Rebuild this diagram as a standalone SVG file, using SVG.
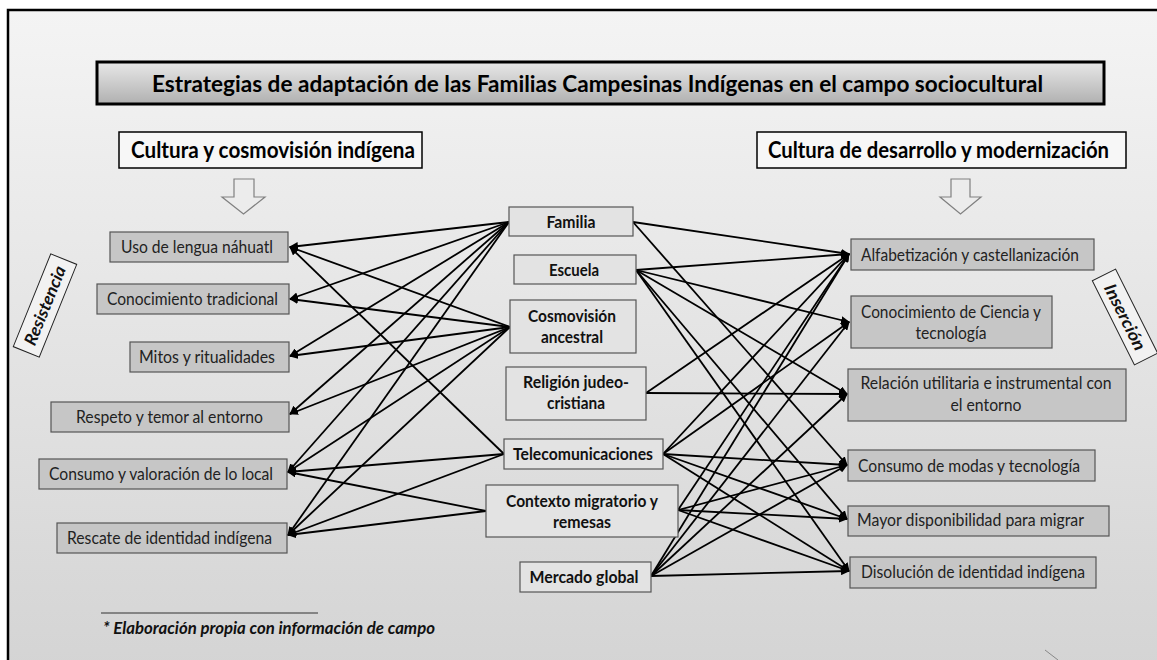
<svg xmlns="http://www.w3.org/2000/svg" width="1157" height="660" viewBox="0 0 1157 660">
<defs>
<linearGradient id="bg" x1="0" y1="0" x2="0" y2="1">
<stop offset="0" stop-color="#f4f4f4"/>
<stop offset="1" stop-color="#d4d4d4"/>
</linearGradient>
<linearGradient id="tg" x1="0" y1="0" x2="0" y2="1">
<stop offset="0" stop-color="#e8e8e8"/>
<stop offset="1" stop-color="#b0b0b0"/>
</linearGradient>
<marker id="ah" markerUnits="userSpaceOnUse" markerWidth="9" markerHeight="8" refX="8" refY="4" orient="auto">
<path d="M0,0 L9,4 L0,8 z" fill="#000"/>
</marker>
<style>
.side{fill:#c6c6c6;stroke:#555;stroke-width:1.2}
.mid{fill:#e3e3e3;stroke:#555;stroke-width:1.2}
.hdr{fill:#f7f7f7;stroke:#000;stroke-width:1.5}
.ar{fill:#ececec;stroke:#808080;stroke-width:1.2}
.t{font-family:Lato,"Open Sans","DejaVu Sans",sans-serif;font-size:17px;fill:#222}
.b{font-family:Lato,"Open Sans","DejaVu Sans",sans-serif;font-size:17px;font-weight:bold;fill:#111}
.h{font-family:Lato,"Open Sans","DejaVu Sans",sans-serif;font-size:22px;font-weight:bold;fill:#000}
.lab{font-family:Lato,"Open Sans","DejaVu Sans",sans-serif;font-size:17px;font-weight:bold;font-style:italic;fill:#111}
.c{fill:none;stroke:#000;stroke-width:1.8;marker-end:url(#ah)}
</style>
</defs>
<rect x="0" y="0" width="1157" height="660" fill="#fff"/>
<rect x="8" y="10" width="1160" height="660" fill="url(#bg)" stroke="#000" stroke-width="2.5"/>

<g id="title">
<rect x="97" y="62" width="1007" height="42" fill="url(#tg)" stroke="#000" stroke-width="3"/>
<text x="152" y="92" class="h" font-size="24" textLength="891" lengthAdjust="spacingAndGlyphs">Estrategias de adaptación de las Familias Campesinas Indígenas en el campo sociocultural</text>
</g>

<g id="hdr-left">
<rect x="119" y="132" width="303" height="36" class="hdr"/>
<text x="131" y="158" class="h" textLength="284" lengthAdjust="spacingAndGlyphs">Cultura y cosmovisión indígena</text>
<path d="M234,179 H254 V197 H265 L243.5,214 L222,197 H234 Z" class="ar"/>
</g>
<g id="hdr-right">
<rect x="757" y="132" width="369" height="36" class="hdr"/>
<text x="768" y="158" class="h" textLength="341" lengthAdjust="spacingAndGlyphs">Cultura de desarrollo y modernización</text>
<path d="M951,179 H970 V197 H981 L960.5,214 L940,197 H951 Z" class="ar"/>
</g>

<g id="resistencia" transform="translate(45,305.5) rotate(-68)">
<rect x="-50" y="-14" width="100" height="28" fill="#f2f2f2" stroke="#222" stroke-width="1"/>
<text x="0" y="6" class="lab" text-anchor="middle" textLength="84" lengthAdjust="spacingAndGlyphs">Resistencia</text>
</g>
<g id="insercion" transform="translate(1125,317) rotate(63.4)">
<rect x="-47" y="-13" width="94" height="26" fill="#f2f2f2" stroke="#222" stroke-width="1"/>
<text x="0" y="6" class="lab" text-anchor="middle" textLength="72" lengthAdjust="spacingAndGlyphs">Inserción</text>
</g>

<g id="connectors">
<line x1="509" y1="222" x2="290" y2="247" class="c"/>
<line x1="509" y1="222" x2="290" y2="299" class="c"/>
<line x1="509" y1="222" x2="290" y2="356" class="c"/>
<line x1="509" y1="222" x2="290" y2="414" class="c"/>
<line x1="509" y1="222" x2="288" y2="472" class="c"/>
<line x1="509" y1="222" x2="288" y2="535" class="c"/>
<line x1="510" y1="327" x2="290" y2="247" class="c"/>
<line x1="510" y1="327" x2="290" y2="299" class="c"/>
<line x1="510" y1="327" x2="290" y2="356" class="c"/>
<line x1="510" y1="327" x2="290" y2="414" class="c"/>
<line x1="510" y1="327" x2="288" y2="472" class="c"/>
<line x1="510" y1="327" x2="288" y2="535" class="c"/>
<line x1="504" y1="454" x2="290" y2="247" class="c"/>
<line x1="504" y1="454" x2="288" y2="472" class="c"/>
<line x1="504" y1="454" x2="288" y2="535" class="c"/>
<line x1="486" y1="511" x2="288" y2="472" class="c"/>
<line x1="486" y1="511" x2="288" y2="535" class="c"/>

<line x1="633" y1="222" x2="849" y2="254" class="c"/>
<line x1="633" y1="222" x2="847" y2="465" class="c"/>
<line x1="636" y1="270" x2="849" y2="254" class="c"/>
<line x1="636" y1="270" x2="849" y2="322" class="c"/>
<line x1="636" y1="270" x2="847" y2="394" class="c"/>
<line x1="636" y1="270" x2="847" y2="519" class="c"/>
<line x1="636" y1="270" x2="849" y2="571" class="c"/>
<line x1="646" y1="393" x2="849" y2="254" class="c"/>
<line x1="646" y1="393" x2="847" y2="394" class="c"/>
<line x1="663" y1="454" x2="849" y2="254" class="c"/>
<line x1="663" y1="454" x2="849" y2="322" class="c"/>
<line x1="663" y1="454" x2="847" y2="465" class="c"/>
<line x1="663" y1="454" x2="847" y2="519" class="c"/>
<line x1="663" y1="454" x2="849" y2="571" class="c"/>
<line x1="678" y1="510" x2="849" y2="254" class="c"/>
<line x1="678" y1="510" x2="847" y2="465" class="c"/>
<line x1="678" y1="510" x2="847" y2="519" class="c"/>
<line x1="678" y1="510" x2="849" y2="571" class="c"/>
<line x1="651" y1="576" x2="849" y2="254" class="c"/>
<line x1="651" y1="576" x2="849" y2="322" class="c"/>
<line x1="651" y1="576" x2="847" y2="394" class="c"/>
<line x1="651" y1="576" x2="847" y2="465" class="c"/>
<line x1="651" y1="576" x2="849" y2="571" class="c"/>
</g>

<g id="uso"><rect x="110" y="232" width="178" height="30" class="side"/><text x="121" y="253" class="t" textLength="152" lengthAdjust="spacingAndGlyphs">Uso de lengua náhuatl</text></g>
<g id="conoc-trad"><rect x="97" y="284" width="192" height="30" class="side"/><text x="107" y="305" class="t" textLength="171" lengthAdjust="spacingAndGlyphs">Conocimiento tradicional</text></g>
<g id="mitos"><rect x="130" y="342" width="159" height="30" class="side"/><text x="139" y="363" class="t" textLength="136" lengthAdjust="spacingAndGlyphs">Mitos y ritualidades</text></g>
<g id="respeto"><rect x="51" y="402" width="238" height="30" class="side"/><text x="76" y="423" class="t" textLength="187" lengthAdjust="spacingAndGlyphs">Respeto y temor al entorno</text></g>
<g id="consumo-local"><rect x="39" y="459" width="248" height="30" class="side"/><text x="49" y="480" class="t" textLength="224" lengthAdjust="spacingAndGlyphs">Consumo y valoración de lo local</text></g>
<g id="rescate"><rect x="57" y="523" width="230" height="30" class="side"/><text x="67" y="544" class="t" textLength="205" lengthAdjust="spacingAndGlyphs">Rescate de identidad indígena</text></g>

<g id="familia"><rect x="509" y="207" width="124" height="29" class="mid"/><text x="571" y="228" class="b" text-anchor="middle" textLength="49" lengthAdjust="spacingAndGlyphs">Familia</text></g>
<g id="escuela"><rect x="514" y="255" width="122" height="29" class="mid"/><text x="574" y="276" class="b" text-anchor="middle" textLength="50" lengthAdjust="spacingAndGlyphs">Escuela</text></g>
<g id="cosmovision"><rect x="510" y="300" width="126" height="53" class="mid"/><text x="572" y="322" class="b" text-anchor="middle" textLength="88" lengthAdjust="spacingAndGlyphs">Cosmovisión</text><text x="572" y="343" class="b" text-anchor="middle" textLength="62" lengthAdjust="spacingAndGlyphs">ancestral</text></g>
<g id="religion"><rect x="506" y="367" width="140" height="53" class="mid"/><text x="576" y="388" class="b" text-anchor="middle" textLength="106" lengthAdjust="spacingAndGlyphs">Religión judeo-</text><text x="576" y="409" class="b" text-anchor="middle" textLength="58" lengthAdjust="spacingAndGlyphs">cristiana</text></g>
<g id="telecom"><rect x="504" y="439" width="159" height="30" class="mid"/><text x="583" y="460" class="b" text-anchor="middle" textLength="140" lengthAdjust="spacingAndGlyphs">Telecomunicaciones</text></g>
<g id="contexto"><rect x="486" y="485" width="192" height="52" class="mid"/><text x="582" y="507" class="b" text-anchor="middle" textLength="152" lengthAdjust="spacingAndGlyphs">Contexto migratorio y</text><text x="582" y="528" class="b" text-anchor="middle" textLength="58" lengthAdjust="spacingAndGlyphs">remesas</text></g>
<g id="mercado"><rect x="520" y="562" width="131" height="30" class="mid"/><text x="584" y="583" class="b" text-anchor="middle" textLength="109" lengthAdjust="spacingAndGlyphs">Mercado global</text></g>

<g id="alfab"><rect x="851" y="239" width="243" height="31" class="side"/><text x="861" y="261" class="t" textLength="218" lengthAdjust="spacingAndGlyphs">Alfabetización y castellanización</text></g>
<g id="ciencia"><rect x="851" y="296" width="201" height="52" class="side"/><text x="951" y="318" class="t" text-anchor="middle" textLength="180" lengthAdjust="spacingAndGlyphs">Conocimiento de Ciencia y</text><text x="951" y="339" class="t" text-anchor="middle" textLength="71" lengthAdjust="spacingAndGlyphs">tecnología</text></g>
<g id="relacion"><rect x="848" y="369" width="278" height="52" class="side"/><text x="986" y="389" class="t" text-anchor="middle" textLength="251" lengthAdjust="spacingAndGlyphs">Relación utilitaria e instrumental con</text><text x="986" y="411" class="t" text-anchor="middle" textLength="71" lengthAdjust="spacingAndGlyphs">el entorno</text></g>
<g id="modas"><rect x="848" y="450" width="247" height="31" class="side"/><text x="858" y="472" class="t" textLength="222" lengthAdjust="spacingAndGlyphs">Consumo de modas y tecnología</text></g>
<g id="migrar"><rect x="848" y="506" width="261" height="30" class="side"/><text x="857" y="526" class="t" textLength="227" lengthAdjust="spacingAndGlyphs">Mayor disponibilidad para migrar</text></g>
<g id="disolucion"><rect x="850" y="557" width="246" height="31" class="side"/><text x="861" y="578" class="t" textLength="224" lengthAdjust="spacingAndGlyphs">Disolución de identidad indígena</text></g>

<g id="footnote">
<line x1="101" y1="613" x2="318" y2="613" stroke="#333" stroke-width="1"/>
<text x="103" y="634" class="lab" font-size="15" textLength="332" lengthAdjust="spacingAndGlyphs">* Elaboración propia con información de campo</text>
</g>
<line x1="1045" y1="650" x2="1058" y2="660" stroke="#888" stroke-width="1"/>
</svg>
